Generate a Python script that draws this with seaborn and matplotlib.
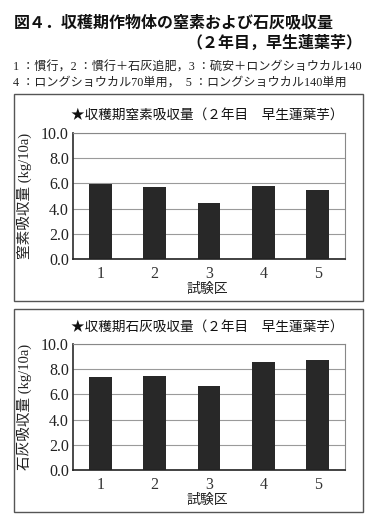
import matplotlib
matplotlib.use("Agg")
import matplotlib.pyplot as plt
import seaborn as sns
import pandas as pd
from matplotlib.patches import Rectangle

sns.set_theme(style="white")
plt.rcParams['font.family'] = ['Noto Sans CJK JP', 'DejaVu Sans']

categories = ["1", "2", "3", "4", "5"]
nitrogen = [5.99, 5.73, 4.46, 5.80, 5.51]
lime = [7.40, 7.45, 6.68, 8.54, 8.75]
yticks = [0.0, 2.0, 4.0, 6.0, 8.0, 10.0]

main_title = "図４．収穫期作物体の窒素および石灰吸収量"
sub_title = "（２年目，早生蓮葉芋）"
note1 = "1 ：慣行，2 ：慣行＋石灰追肥，3 ：硫安＋ロングショウカル140"
note2 = "4 ：ロングショウカル70単用，  5 ：ロングショウカル140単用"
titles = ["★収穫期窒素吸収量（２年目　早生蓮葉芋）", "★収穫期石灰吸収量（２年目　早生蓮葉芋）"]
ylabels = ["窒素吸収量 (kg/10a)", "石灰吸収量 (kg/10a)"]
xlabel = "試験区"

W, H = 378, 530
fig = plt.figure(figsize=(W / 100, H / 100), dpi=100)
fig.patch.set_facecolor("white")

def fx(px):
    return px / W

def fy(py):
    return 1 - py / H

mixed = ['Liberation Serif', 'Noto Sans CJK JP']

fig.text(fx(14), fy(22), main_title, fontsize=11.5, fontweight='bold', ha='left', va='center', color='#111111')
fig.text(fx(362), fy(43), sub_title, fontsize=11.5, fontweight='bold', ha='right', va='center', color='#111111')
fig.text(fx(13), fy(68), note1, fontsize=8.7, ha='left', va='center', color='#222222', family=mixed)
fig.text(fx(13), fy(83), note2, fontsize=8.7, ha='left', va='center', color='#222222', family=mixed)

boxes = [(14, 94, 363, 301), (14, 309, 363, 512)]
for (x0, y0, x1, y1) in boxes:
    fig.add_artist(Rectangle((fx(x0), fy(y1)), fx(x1) - fx(x0), fy(y0) - fy(y1),
                             transform=fig.transFigure, fill=False, edgecolor='#555555', linewidth=1.0))

axes_px = [(73, 133, 345, 259), (73, 344, 345, 470)]
title_y = [115, 327]
datasets = [nitrogen, lime]

for i in range(2):
    x0, y0, x1, y1 = axes_px[i]
    ax = fig.add_axes([fx(x0), fy(y1), fx(x1) - fx(x0), fy(y0) - fy(y1)])
    df = pd.DataFrame({"区": categories, "値": datasets[i]})
    sns.barplot(data=df, x="区", y="値", ax=ax, color="#282828", width=0.42,
                saturation=1, edgecolor="none")
    ax.set_ylim(0, 10)
    ax.set_xlim(-0.5, 4.5)
    ax.set_yticks(yticks)
    ax.set_yticklabels([f"{v:.1f}" for v in yticks], family='Liberation Serif', fontsize=11.5, color='#222222')
    ax.set_xticks(range(len(categories)))
    ax.set_xticklabels(categories, family='Liberation Serif', fontsize=11.5, color='#333333')
    ax.tick_params(axis='y', length=0, pad=3)
    ax.tick_params(axis='x', length=0, pad=5)
    ax.yaxis.grid(True, color='#9a9a9a', linewidth=0.8)
    ax.set_axisbelow(True)
    for s in ['top', 'right']:
        ax.spines[s].set_color('#888888')
        ax.spines[s].set_linewidth(0.8)
    ax.spines['left'].set_color('#333333')
    ax.spines['bottom'].set_color('#222222')
    ax.spines['bottom'].set_linewidth(1.2)
    ax.set_xlabel("")
    ax.set_ylabel("")
    fig.text(fx(207), fy(title_y[i]), titles[i], fontsize=9.8, ha='center', va='center',
             color='#111111', family=['Noto Sans CJK JP', 'DejaVu Sans'])
    fig.text(fx(24), fy((y0 + y1) / 2), ylabels[i], fontsize=10.5, ha='center', va='center',
             rotation=90, color='#222222', family=mixed)
    fig.text(fx(207), fy(y1 + 30), xlabel, fontsize=10, ha='center', va='center', color='#222222')

fig.savefig("out.png", dpi=100, facecolor="white")
